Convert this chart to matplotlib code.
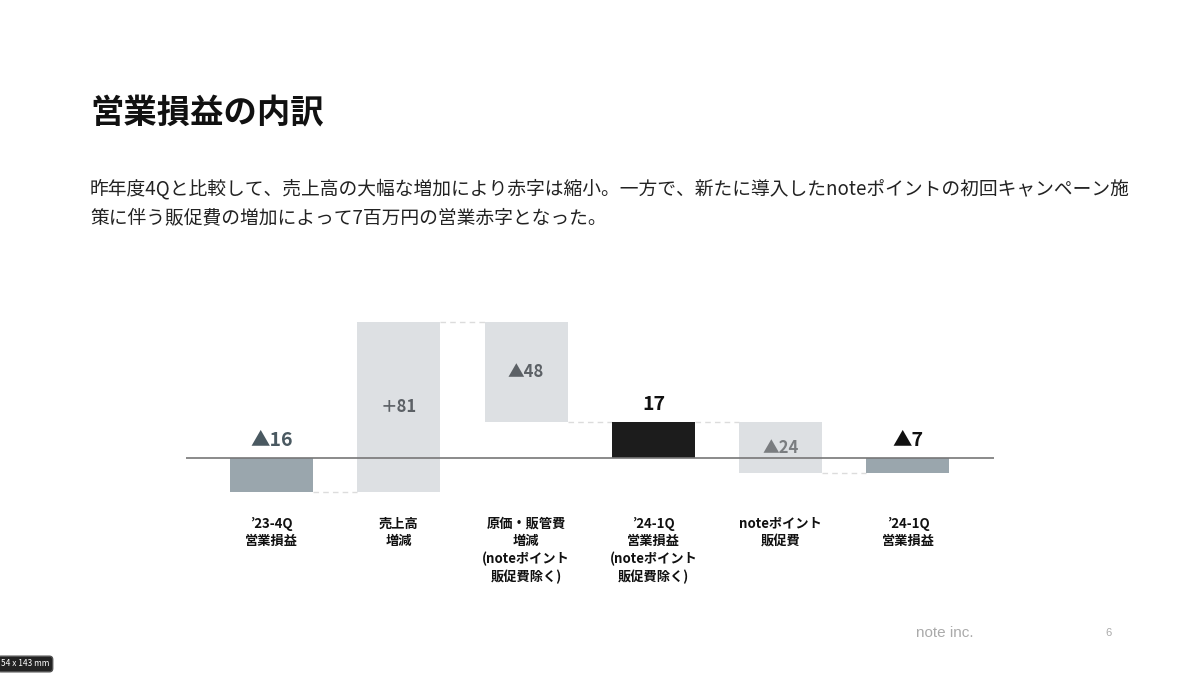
import matplotlib
matplotlib.use("Agg")
import matplotlib.pyplot as plt

plt.rcParams["font.family"] = ["Noto Sans CJK JP", "DejaVu Sans"]

# データ（百万円）
categories = [
    "’23-4Q\n営業損益",
    "売上高\n増減",
    "原価・販管費\n増減\n(noteポイント\n販促費除く)",
    "’24-1Q\n営業損益\n(noteポイント\n販促費除く)",
    "noteポイント\n販促費",
    "’24-1Q\n営業損益",
]
values = [-16, 81, -48, 17, -24, -7]
kinds = ["total", "delta", "delta", "total", "delta", "total"]

title = "営業損益の内訳"
body = ("昨年度4Qと比較して、売上高の大幅な増加により赤字は縮小。一方で、新たに導入したnoteポイントの初回キャンペーン施\n"
        "策に伴う販促費の増加によって7百万円の営業赤字となった。")

W, H = 1200, 673
fig = plt.figure(figsize=(W / 100, H / 100), dpi=100)
fig.patch.set_facecolor("white")


def px(x, y):
    return x / W, 1 - y / H


fig.text(*px(90, 113), title, fontsize=24, weight="bold", va="center", color="#111111")
fig.text(*px(90, 178), body, fontsize=13.5, va="top", ha="left", color="#222222",
         linespacing=1.6)

# 軸
ax = fig.add_axes([186 / W, 1 - 500 / H, 808 / W, 200 / H])
ax.set_xlim(-0.672, 5.676)
ax.set_ylim(-20, 75.24)
for s in ax.spines.values():
    s.set_visible(False)
ax.set_yticks([])

bar_w = 0.652
bar_colors = {"total_neg": "#9aa6ad", "total_pos": "#1c1c1c", "delta": "#dde0e3"}

running = 0
bottoms, tops = [], []
for i, (v, k) in enumerate(zip(values, kinds)):
    if k == "total":
        b = 0
        running = v
        color = bar_colors["total_pos"] if v > 0 else bar_colors["total_neg"]
    else:
        b = running
        running = running + v
        color = bar_colors["delta"]
    ax.bar(i, v, bottom=b, width=bar_w, color=color, zorder=2)
    bottoms.append(min(b, b + v))
    tops.append(max(b, b + v))

ax.axhline(0, color="#777777", lw=1.2, zorder=3)

# 破線コネクタ
level = 0
for i, (v, k) in enumerate(zip(values, kinds)):
    level = v if k == "total" else level + v
    if i < len(values) - 1:
        ax.plot([i + bar_w / 2, i + 1 - bar_w / 2], [level, level],
                color="#dcdcdc", lw=1, ls=(0, (4, 3)), zorder=1)

# 値ラベル
val_font = ["Noto Sans CJK JP", "DejaVu Sans"]
for i, (v, k) in enumerate(zip(values, kinds)):
    if k == "total":
        txt = f"▲{abs(v)}" if v < 0 else f"{v}"
        y = max(v, 0)
        col = "#4a5961" if i == 0 else "#111111"
        ax.annotate(txt, (i, y), xytext=(0, 6), textcoords="offset points",
                    ha="center", va="bottom", fontsize=14, weight="bold",
                    color=col, family=val_font)
    else:
        txt = f"▲{abs(v)}" if v < 0 else f"＋{v}"
        mid = (bottoms[i] + tops[i]) / 2
        col = "#5c6166" if i < 4 else "#7a7d80"
        ax.text(i, mid, txt, ha="center", va="center", fontsize=12,
                weight="bold", color=col, family=val_font)

ax.set_xticks(range(len(categories)))
ax.set_xticklabels(categories, fontsize=9.5, weight="bold", linespacing=1.3,
                   va="top", family=["Liberation Sans Narrow", "Noto Sans CJK JP", "DejaVu Sans"])
ax.tick_params(axis="x", length=0, pad=12, colors="#111111")

# フッター
fig.text(*px(916, 633), "note inc.", fontsize=11, color="#aaaaaa", va="center",
         family=["Liberation Sans", "DejaVu Sans"])
fig.text(*px(1109, 633), "6", fontsize=8, color="#aaaaaa", va="center", ha="center",
         family=["Liberation Sans", "DejaVu Sans"])
fig.text(*px(1, 664), "54 x 143 mm", fontsize=6, color="white", va="center",
         bbox=dict(boxstyle="round,pad=0.4", fc="#222222", ec="#555555"))

fig.savefig("out.png", dpi=100)
